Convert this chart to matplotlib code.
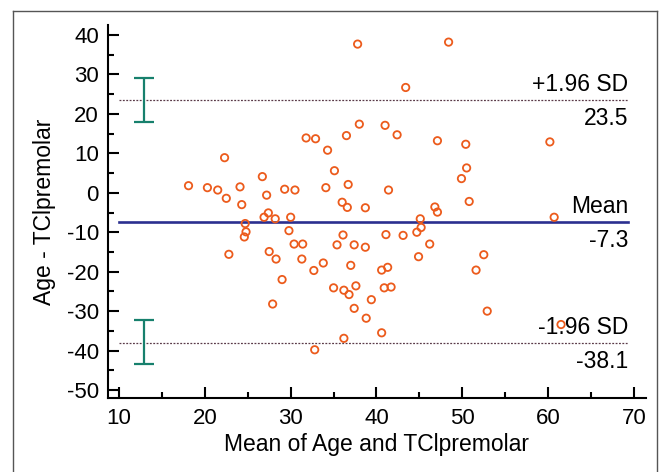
import numpy as np
import matplotlib
matplotlib.use("Agg")
import matplotlib.pyplot as plt
from matplotlib.lines import Line2D

plt.rcParams['font.family'] = ['Liberation Sans', 'DejaVu Sans']
plt.rcParams['axes.unicode_minus'] = False

# Bland-Altman data: mean of the two methods vs their difference
mean_vals = [37.8, 48.4, 43.4, 38.0, 31.8, 32.9, 36.5, 34.3, 22.3, 35.1,
             26.7, 18.1, 20.3, 21.5, 24.1, 22.5, 24.3, 27.2, 29.3, 30.5,
             34.1, 36.7, 36.0, 36.6, 38.7, 41.0, 42.4, 47.1, 50.4, 60.2,
             50.5, 49.9, 41.4, 50.8, 46.8, 47.1, 45.1, 60.7, 41.1, 43.1,
             44.7, 45.2, 46.2, 44.9, 52.5, 51.6, 40.6, 41.3, 40.9, 41.7,
             39.4, 52.9, 40.6, 61.5, 26.9, 27.4, 28.2, 30.0, 24.7, 24.8,
             24.6, 29.8, 30.4, 31.4, 27.5, 28.3, 22.8, 31.3, 32.7, 33.8,
             29.0, 35.0, 36.2, 36.8, 37.6, 37.0, 36.1, 35.4, 37.4, 38.7,
             27.9, 37.4, 38.8, 36.2, 32.8]
diff_vals = [37.7, 38.2, 26.7, 17.4, 13.9, 13.7, 14.5, 10.8, 8.9, 5.6,
             4.1, 1.8, 1.3, 0.7, 1.5, -1.4, -3.0, -0.6, 0.9, 0.7,
             1.3, 2.1, -2.4, -3.7, -3.8, 17.1, 14.7, 13.2, 12.3, 12.9,
             6.3, 3.6, 0.7, -2.2, -3.6, -4.9, -6.6, -6.2, -10.6, -10.8,
             -10.0, -8.8, -13.0, -16.2, -15.7, -19.6, -19.6, -18.9, -24.1, -23.9,
             -27.1, -30.0, -35.5, -33.4, -6.2, -5.1, -6.6, -6.2, -7.8, -9.9,
             -11.2, -9.6, -13.0, -13.0, -14.9, -16.8, -15.6, -16.8, -19.7, -17.8,
             -22.0, -24.1, -24.7, -25.8, -23.6, -18.4, -10.7, -13.2, -13.2, -13.8,
             -28.2, -29.3, -31.8, -36.9, -39.8]

mean_diff = -7.3
upper_loa = 23.5
lower_loa = -38.1
# 95% CI of the limits of agreement
upper_ci = [18.0, 29.2]
lower_ci = [-43.5, -32.2]
ci_x = 12.9

fig = plt.figure(figsize=(6.61, 4.72), dpi=100)
W, H = 661, 472
ax = fig.add_axes([108 / W, (H - 398) / H, (646 - 108) / W, (398 - 25) / H])

ax.scatter(mean_vals, diff_vals, s=28, facecolors='none',
           edgecolors='#EC5B1C', linewidths=1.3, zorder=3)

x_end = 69.3
ax.plot([10, x_end], [mean_diff, mean_diff], color='#2B2F8F', lw=1.9, zorder=2)
ax.plot([10, x_end], [upper_loa, upper_loa], color='#5A3A48', lw=0.9,
        ls=(0, (1.5, 1.2)), zorder=2)
ax.plot([10, x_end], [lower_loa, lower_loa], color='#5A3A48', lw=0.9,
        ls=(0, (1.5, 1.2)), zorder=2)

for lo, hi in [upper_ci, lower_ci]:
    mid = (lo + hi) / 2
    ax.errorbar([ci_x], [mid], yerr=[[mid - lo], [hi - mid]], fmt='none',
                ecolor='#17806D', elinewidth=1.6, capsize=7.2, capthick=1.6)

labels = [(upper_loa, '+1.96 SD', '23.5'),
          (mean_diff, 'Mean', '-7.3'),
          (lower_loa, '-1.96 SD', '-38.1')]
for val, top, bottom in labels:
    ax.annotate(top, xy=(x_end, val), xytext=(0, 6.5), textcoords='offset points',
                ha='right', va='baseline', fontsize=16.5)
    ax.annotate(bottom, xy=(x_end, val), xytext=(0, -5), textcoords='offset points',
                ha='right', va='top', fontsize=16.5)

ax.set_xlim(8.718, 71.40)
ax.set_ylim(-52.03, 42.54)
ax.set_xticks(np.arange(10, 71, 10))
ax.set_xticks(np.arange(15, 70, 10), minor=True)
ax.set_yticks(np.arange(-50, 41, 10))
ax.set_yticks(np.arange(-45, 40, 10), minor=True)
ax.tick_params(which='both', direction='in', width=1.5, labelsize=16)
ax.tick_params(which='major', length=8)
ax.tick_params(which='minor', length=4)
ax.tick_params(axis='y', pad=6.5)
ax.tick_params(axis='x', pad=7)
for s in ['top', 'right']:
    ax.spines[s].set_visible(False)
for s in ['left', 'bottom']:
    ax.spines[s].set_linewidth(1.5)

ax.set_xlabel('Mean of Age and TClpremolar', fontsize=16.5, labelpad=3)
ax.set_ylabel('Age - TClpremolar', fontsize=16.5, labelpad=8)

# outer frame
x0, x1, y1 = 13 / W, 657 / W, 1 - 11 / H
for xs, ys in [([x0, x0], [0, y1]), ([x0, x1], [y1, y1]), ([x1, x1], [y1, 0])]:
    fig.add_artist(Line2D(xs, ys, color='#555555', lw=1.0))

fig.savefig('out.png', dpi=100)
